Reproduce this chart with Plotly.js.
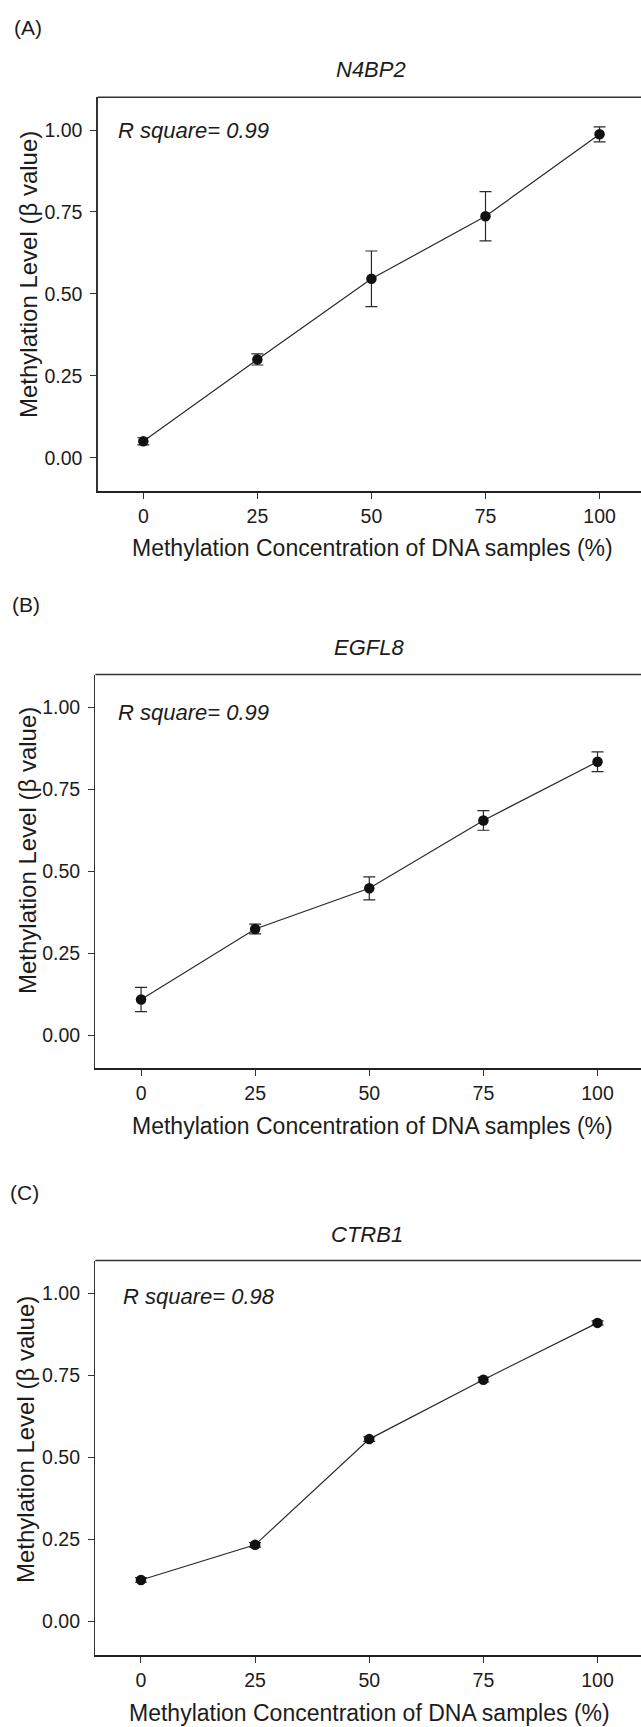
<!DOCTYPE html>
<html>
<head>
<meta charset="utf-8">
<script src="https://cdn.plot.ly/plotly-3.0.1.min.js"></script>
<style>
  html, body { margin: 0; padding: 0; background: #fff; overflow: hidden; }
  #chart { width: 700px; height: 1727px; }
</style>
</head>
<body>
<div id="chart"></div>
<script>
// ---------------- data ----------------
const xConc = [0, 25, 50, 75, 100];

const n4bp2Mean = [0.050, 0.300, 0.546, 0.737, 0.987];
const n4bp2Err  = [0.011, 0.017, 0.085, 0.075, 0.023];

const egfl8Mean = [0.109, 0.324, 0.448, 0.655, 0.834];
const egfl8Err  = [0.037, 0.015, 0.035, 0.030, 0.030];

const ctrb1Mean = [0.127, 0.234, 0.556, 0.737, 0.910];
const ctrb1Err  = [0.007, 0.007, 0.007, 0.007, 0.006];

const geneNames   = ['N4BP2', 'EGFL8', 'CTRB1'];
const panelLabels = ['(A)', '(B)', '(C)'];
const rSquare     = ['0.99', '0.99', '0.98'];

const xTickVals = [0, 25, 50, 75, 100];
const xTickText = ['0', '25', '50', '75', '100'];
const yTickVals = [0, 0.25, 0.5, 0.75, 1];
const yTickText = ['0.00', '0.25', '0.50', '0.75', '1.00'];

const xTitleText = 'Methylation Concentration of DNA samples (%)';
const yTitleText = 'Methylation Level (\u03b2 value)';

// ---------------- layout geometry (pixels) ----------------
const W = 700, H = 1727;
const FONT = '"Liberation Sans", Arial, Helvetica, sans-serif';
const TXT = '#1c1c1c';

// x range extends past the visible page (frame is cut at the right edge)
const geom = [
  { l: 97.7, r: 668, t: 97.3,  b: 490.5, title: [371, 69],    letter: [12, 28],   xt: [373, 548],    yt: [29, 275],  rs: [-5.9, 1.0] },
  { l: 95.4, r: 666, t: 674.5, b: 1068,  title: [369, 647.5], letter: [10, 605],  xt: [372, 1126],   yt: [27, 851],  rs: [-5.4, 0.985] },
  { l: 95.3, r: 666, t: 1260.5,b: 1654.5,title: [366.5, 1234],letter: [8, 1192],  xt: [369.5, 1713], yt: [25, 1440], rs: [-4.3, 0.989] }
];
const px = x => x / W;
const py = y => 1 - y / H;

const means = [n4bp2Mean, egfl8Mean, ctrb1Mean];
const errs  = [n4bp2Err, egfl8Err, ctrb1Err];

const traces = [];
const layout = {
  width: W, height: H,
  margin: { l: 0, r: 0, t: 0, b: 0 },
  paper_bgcolor: '#fff', plot_bgcolor: '#fff',
  showlegend: false,
  font: { family: FONT, color: TXT },
  annotations: [], shapes: []
};

geom.forEach((g, i) => {
  const sfx = i === 0 ? '' : String(i + 1);
  const xa = 'x' + sfx, ya = 'y' + sfx;
  traces.push({
    type: 'scatter', mode: 'lines+markers',
    x: xConc, y: means[i],
    xaxis: xa, yaxis: ya,
    line: { color: '#2a2a2a', width: 1.2 },
    marker: { color: '#111', size: 10.5 },
    error_y: { type: 'data', array: errs[i], visible: true, color: '#2a2a2a', thickness: 1.2, width: 6 },
    cliponaxis: false
  });
  layout['xaxis' + sfx] = {
    domain: [px(g.l), px(g.r)], anchor: ya, range: [-10, 115],
    showgrid: false, zeroline: false, showline: true, linecolor: '#222', linewidth: 2,
    ticks: 'outside', ticklen: 6, tickwidth: 1, tickcolor: '#333',
    tickvals: xTickVals, ticktext: xTickText,
    tickfont: { family: FONT, size: 19.5, color: TXT }, ticklabelstandoff: 1,
    fixedrange: true
  };
  layout['yaxis' + sfx] = {
    domain: [py(g.b), py(g.t)], anchor: xa, range: [-0.1, 1.1],
    showgrid: false, zeroline: false, showline: true, linecolor: '#333', linewidth: 1.4,
    ticks: 'outside', ticklen: 6, tickwidth: 1, tickcolor: '#333',
    tickvals: yTickVals, ticktext: yTickText,
    tickfont: { family: FONT, size: 19.5, color: TXT }, ticklabelstandoff: 4,
    fixedrange: true
  };
  // top border
  layout.shapes.push({ type: 'line', xref: xa + ' domain', yref: ya + ' domain', x0: 0, x1: 1, y0: 1, y1: 1,
    line: { color: '#333', width: 1.4 } });

  // panel letter
  layout.annotations.push({ xref: 'paper', yref: 'paper', x: px(g.letter[0]), y: py(g.letter[1]),
    xanchor: 'left', yanchor: 'middle', showarrow: false, text: panelLabels[i],
    font: { family: FONT, size: 21, color: TXT } });
  // gene title
  layout.annotations.push({ xref: 'paper', yref: 'paper', x: px(g.title[0]), y: py(g.title[1]),
    xanchor: 'center', yanchor: 'middle', showarrow: false, text: '<i>' + geneNames[i] + '</i>',
    font: { family: FONT, size: 22, color: TXT } });
  // R square
  layout.annotations.push({ xref: xa, yref: ya, x: g.rs[0], y: g.rs[1],
    xanchor: 'left', yanchor: 'middle', showarrow: false, text: '<i>R square= ' + rSquare[i] + '</i>',
    font: { family: FONT, size: 22, color: TXT } });
  // x title
  layout.annotations.push({ xref: 'paper', yref: 'paper', x: px(g.xt[0]), y: py(g.xt[1]),
    xanchor: 'center', yanchor: 'middle', showarrow: false, text: xTitleText,
    font: { family: FONT, size: 23, color: TXT } });
  // y title
  layout.annotations.push({ xref: 'paper', yref: 'paper', x: px(g.yt[0]), y: py(g.yt[1]),
    xanchor: 'center', yanchor: 'middle', showarrow: false, textangle: -90, text: yTitleText,
    font: { family: FONT, size: 24, color: TXT } });
});

Plotly.newPlot('chart', traces, layout, { displayModeBar: false, staticPlot: true });
</script>
</body>
</html>
